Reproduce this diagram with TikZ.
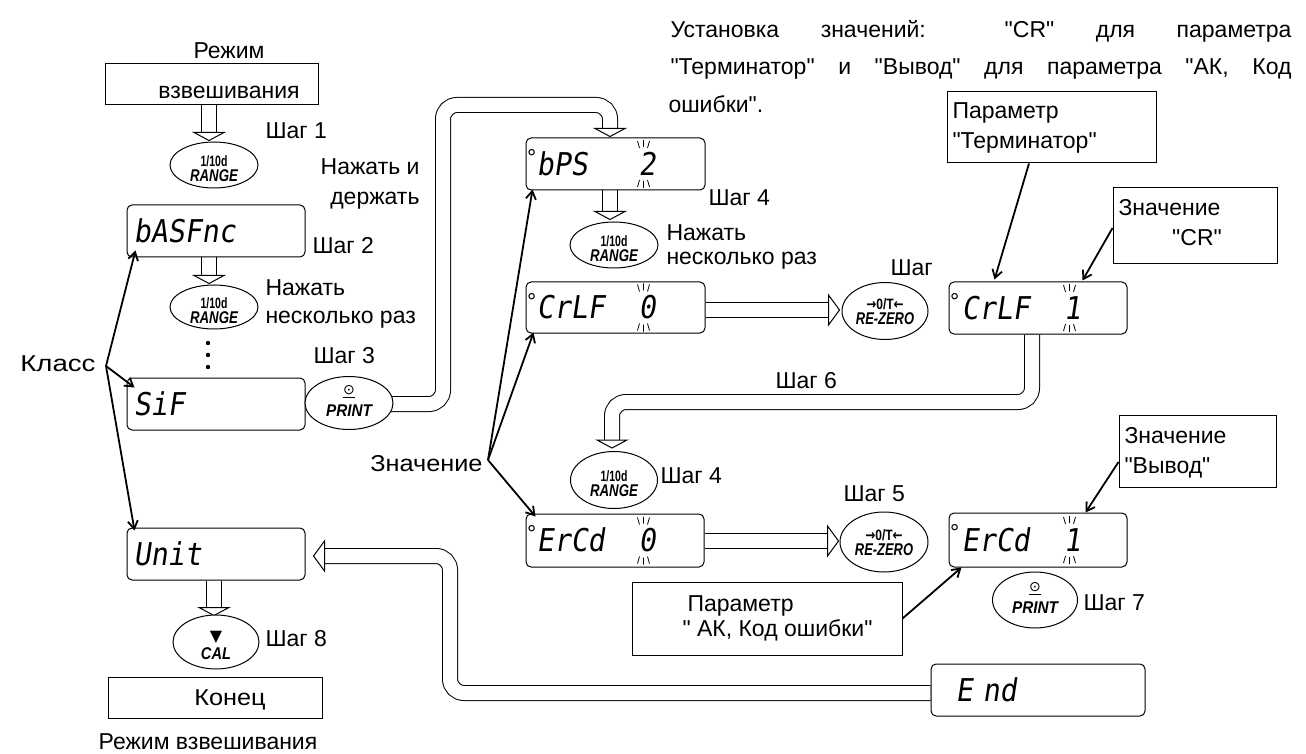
\documentclass[tikz,border=0pt]{standalone}
\usepackage{fontspec}
\usepackage{graphicx}
\setmainfont{Liberation Sans}[Ligatures=TeXOff]
\newfontfamily\lcdfont[FakeStretch=0.9,FakeSlant=0.15]{DejaVu Sans Mono}
\newfontfamily\djv{DejaVu Sans}
\usetikzlibrary{shapes.geometric,arrows.meta,calc}
\pgfdeclarelayer{bg}
\pgfsetlayers{bg,main}
\newcommand\nar[2]{\scalebox{#1}[1]{#2}}
\tikzset{
  lbl/.style={inner sep=0pt, font=\fontsize{11.5}{13}\selectfont, text height=8.3pt, text depth=0pt},
  sbox/.style={draw, line width=0.5pt, fill=white, inner sep=0pt, rectangle},
  dbox/.style={sbox, rounded corners=2.5pt, minimum width=89pt, minimum height=26pt},
  btn/.style={ellipse, draw, line width=0.5pt, fill=white, inner sep=0pt},
  k1/.style={inner sep=0pt, font=\fontsize{7.5}{8}\selectfont\bfseries},
  k2/.style={inner sep=0pt, font=\fontsize{8.5}{9}\selectfont\bfseries\itshape},
  k3/.style={inner sep=0pt, font=\djv\fontsize{7}{8}\selectfont},
  lcd/.style={inner sep=0pt, anchor=west, font=\lcdfont\fontsize{15.7}{16}\selectfont, text height=11.4pt, text depth=0pt},
  deg/.style={inner sep=0pt, anchor=base west, font=\fontsize{11.5}{12}\selectfont},
  tar/.style={line width=0.9pt, -{Straight Barb[length=4pt,width=5pt]}},
  band/.style={draw, double=white, double distance=7pt, line width=0.5pt, rounded corners=7pt},
  pics/ahead/.style={code={\draw[fill=white, line width=0.5pt] (0,0) -- (-#1,15) -- (-#1,-15) -- cycle;}},
  pics/blink/.style={code={\draw[line width=0.4pt] (-6,-23)--(-4,-16) (0,-24)--(0,-17) (6,-23)--(4,-16) (-4,16)--(-6,23) (0,17)--(0,24) (4,16)--(6,23);}}
}
\newcommand\rangebtn[4]{%
  \node[btn, minimum width=#3, minimum height=#4] (#1) at (#2) {};
  \node[k1] (#1a) at ($(#1)+(0,-4)$) {\nar{0.7}{1/10d}};
  \node[k2] (#1b) at ($(#1)+(0,11)$) {\nar{0.78}{RANGE}};}
\newcommand\printbtn[4]{%
  \node[btn, minimum width=#3, minimum height=#4] (#1) at (#2) {};
  \node[k3] (#1a) at ($(#1)+(0,-11)$) {\underline{⊙}};
  \node[k2] (#1b) at ($(#1)+(0,8)$) {\nar{0.9}{PRINT}};}
\newcommand\zerobtn[4]{%
  \node[btn, minimum width=#3, minimum height=#4] (#1) at (#2) {};
  \node[k1] (#1a) at ($(#1)+(0,-7)$) {\nar{0.8}{{\djv→}0/T{\djv←}}};
  \node[k2] (#1b) at ($(#1)+(0,8)$) {\nar{0.76}{RE-ZERO}};}
\begin{document}
\begin{tikzpicture}[x=0.5pt,y=-0.5pt,line width=0.5pt]
\useasboundingbox (0,0) rectangle (1306,754);

% top text
\node[lbl,anchor=west] (tx1) at (670,29) {\makebox[310.5pt][s]{Установка значений: "CR" для параметра}};
\node[lbl,anchor=west] (tx2) at (670,66) {\makebox[310.5pt][s]{"Терминатор" и "Вывод" для параметра "АК, Код}};
\node[lbl,anchor=west] (tx3) at (668,104) {ошибки".};

% left column
\node[lbl] (rz) at (229,50) {Режим};
\node[sbox, minimum width=106.5pt, minimum height=20.5pt] (wm) at (211.5,84.5) {};
\node[lbl] (wmt) at (229,90) {взвешивания};
\rangebtn{r1}{214,165}{44pt}{23pt}
\node[lbl,anchor=west] (s1) at (265,130) {Шаг 1};
\node[lbl,anchor=east] (nh1) at (420,166) {Нажать и};
\node[lbl,anchor=east] (nh2) at (420,196) {держать};
\node[dbox] (bas) at (216,231) {};
\node[lcd] (bast) at (133,231) {bASFnc};
\node[lbl,anchor=west] (s2) at (312,245) {Шаг 2};
\rangebtn{r2}{214,307}{44pt}{22pt}
\node[lbl,anchor=west] (n21) at (265,287) {Нажать};
\node[lbl,anchor=west] (n22) at (265,315) {несколько раз};
\fill (208,343) circle (1.1pt) (208,355) circle (1.1pt) (208,367) circle (1.1pt);
\node[lbl,anchor=west] (s3) at (313,355) {Шаг 3};
\node[lbl,anchor=east] (kl) at (96,363) {\nar{1.2}{Класс}};
\coordinate (kv) at (106,366);
\node[dbox] (sif) at (216,404) {};
\node[lcd] (sift) at (133,404) {SiF};
\printbtn{p1}{349,403}{44pt}{26.5pt}
\node[dbox] (unit) at (216,554) {};
\node[lcd] (unitt) at (133,554) {Unit};
\node[btn, minimum width=43pt, minimum height=27pt] (cal) at (216,642) {};
\node[k3] (cala) at ($(cal)+(0,-5)$) {\fontsize{8}{9}\selectfont▼};
\node[k2] (calb) at ($(cal)+(0,12)$) {\nar{0.86}{CAL}};
\node[lbl,anchor=west] (s8) at (265,638) {Шаг 8};
\node[sbox, minimum width=107pt, minimum height=20.5pt] (kon) at (215,697.5) {};
\node[lbl] (kont) at (230,697) {\nar{1.1}{Конец}};
\node[lbl] (rzv) at (208,741) {Режим взвешивания};

% middle column
\node[dbox, minimum width=89.5pt] (bps) at (615.5,164) {};
\node[deg] (bpsd) at ($(bps.north west)+(1,28)$) {°};
\node[lcd] (bpst) at (536,164) {bPS~~~2};
\pic at ($(bps.west)+(118,0)$) {blink};
\node[lbl,anchor=west] (s4a) at (708,197) {Шаг 4};
\rangebtn{r3}{614,245}{44pt}{23pt}
\node[lbl,anchor=west] (n31) at (666,232) {Нажать};
\node[lbl,anchor=west] (n32) at (666,256) {несколько раз};
\node[dbox, minimum width=89.5pt, minimum height=25.5pt] (crlf0) at (615.5,307.5) {};
\node[deg] (crlf0d) at ($(crlf0.north west)+(1,28)$) {°};
\node[lcd] (crlf0t) at (536,307.5) {CrLF~~0};
\pic at ($(crlf0.west)+(118,0)$) {blink};
\node[lbl,anchor=west] (s6) at (775,380) {Шаг 6};
\rangebtn{r4}{614,480}{43.5pt}{28.5pt}
\node[lbl,anchor=west] (s4b) at (660,475) {Шаг 4};
\node[lbl,anchor=east] (zn) at (483,463) {\nar{1.1}{Значение}};
\coordinate (zv) at (488,460);
\node[dbox, minimum height=26.5pt] (ercd0) at (615,540.5) {};
\node[deg] (ercd0d) at ($(ercd0.north west)+(1,28)$) {°};
\node[lcd] (ercd0t) at (536,540.5) {ErCd~~0};
\pic at ($(ercd0.west)+(118,0)$) {blink};
\node[lbl,anchor=west] (s5a) at (890,267) {Шаг};
\zerobtn{z1}{885,311}{43pt}{28.5pt}
\node[lbl,anchor=west] (s5) at (843,493) {Шаг 5};
\zerobtn{z2}{884,542}{44pt}{30pt}
\node[sbox, minimum width=135pt, minimum height=36.5pt] (ak) at (767,618.5) {};
\node[lbl,anchor=west] (ak1) at (687,603) {Параметр};
\node[lbl,anchor=west] (ak2) at (682,628) {" АК, Код ошибки"};

% right column
\node[sbox, minimum width=104.5pt, minimum height=35.5pt] (term) at (1051.5,127.5) {};
\node[lbl,anchor=west] (term1) at (952,110) {Параметр};
\node[lbl,anchor=west] (term2) at (952,140) {"Терминатор"};
\node[sbox, minimum width=82pt, minimum height=38pt] (cr) at (1195,226) {};
\node[lbl,anchor=west] (cr1) at (1118,207) {Значение};
\node[lbl] (cr2) at (1197,237) {"CR"};
\node[dbox] (crlf1) at (1038,308) {};
\node[deg] (crlf1d) at ($(crlf1.north west)+(1,28)$) {°};
\node[lcd] (crlf1t) at (961,308) {CrLF~~1};
\pic at ($(crlf1.west)+(121,0)$) {blink};
\node[sbox, minimum width=78.5pt, minimum height=36pt] (vy) at (1197.5,451) {};
\node[lbl,anchor=west] (vy1) at (1124,435) {Значение};
\node[lbl,anchor=west] (vy2) at (1124,465) {"Вывод"};
\node[dbox, minimum height=27pt] (ercd1) at (1038,540) {};
\node[deg] (ercd1d) at ($(ercd1.north west)+(1,28)$) {°};
\node[lcd] (ercd1t) at (961,540) {ErCd~~1};
\pic at ($(ercd1.west)+(121,0)$) {blink};
\printbtn{p2}{1035,600}{42.5pt}{28pt}
\node[lbl,anchor=west] (s7) at (1083,602) {Шаг 7};
\node[dbox, minimum width=107pt] (endb) at (1038,690) {};
\node[lcd] (endt) at (955,690) {E\kern5pt nd};

% thin arrows
\draw[tar] (kv) -- ($(bas.south west)+(9,-7)$);
\draw[tar] (kv) -- ($(sif.north west)+(8,10)$);
\draw[tar] (kv) -- ($(unit.north west)+(8,3)$);
\draw[tar] (zv) -- ($(bps.south west)+(7,-1)$);
\draw[tar] (zv) -- ($(crlf0.south west)+(8,-1)$);
\draw[tar] (zv) -- ($(ercd0.north west)+(10,3)$);
\draw[tar] ($(term.south)+(-22.5,0)$) -- ($(crlf1.north west)+(46,-2)$);
\draw[tar] ($(cr.west)+(0,2)$) -- ($(crlf1.north west)+(134,-1)$);
\draw[tar] ($(vy.west)+(0,11)$) -- ($(ercd1.north west)+(137,0)$);
\draw[tar] (ak.east) -- ($(ercd1.south west)+(13,0)$);

% hollow arrows
\begin{pgfonlayer}{bg}
\draw[band] ($(wm.south)+(-2.5,0)$) -- ($(wm.south)+(-2.5,27)$);
\pic[rotate=-90] at ($(wm.south)+(-2.5,35)$) {ahead=8};
\draw[band] ($(bas.south)+(-7,0)$) -- ($(bas.south)+(-7,18)$);
\pic[rotate=-90] at ($(bas.south)+(-7,26)$) {ahead=8};
\draw[band] ($(p1.east)+(-12,1)$) -- (443,404) -- (443,105) -- (610,105) -- ($(bps.north)+(-5.5,-9)$);
\pic[rotate=-90] at ($(bps.north)+(-5.5,-1)$) {ahead=8};
\draw[band] ($(bps.south)+(-5.5,0)$) -- ($(bps.south)+(-5.5,21)$);
\pic[rotate=-90] at ($(bps.south)+(-5.5,29)$) {ahead=8};
\draw[band] ($(crlf0.east)+(0,2.5)$) -- ($(crlf0.east)+(123,2.5)$);
\pic at ($(crlf0.east)+(134,2.5)$) {ahead=11};
\draw[band] ($(crlf1.south)+(-6,0)$) -- (1032,402) -- (612,402) -- (612,440);
\pic[rotate=-90] at (612,448) {ahead=8};
\draw[band] ($(ercd0.east)+(0,0.5)$) -- ($(ercd0.east)+(123,0.5)$);
\pic at ($(ercd0.east)+(134,0.5)$) {ahead=11};
\draw[band] ($(endb.west)+(0,3)$) -- (450,693) -- (450,556) -- ($(unit.east)+(19,2)$);
\pic[rotate=180] at ($(unit.east)+(8,2)$) {ahead=11};
\draw[band] ($(unit.south)+(-2,0)$) -- ($(unit.south)+(-2,27)$);
\pic[rotate=-90] at ($(unit.south)+(-2,35)$) {ahead=8};
\end{pgfonlayer}
\end{tikzpicture}
\end{document}
